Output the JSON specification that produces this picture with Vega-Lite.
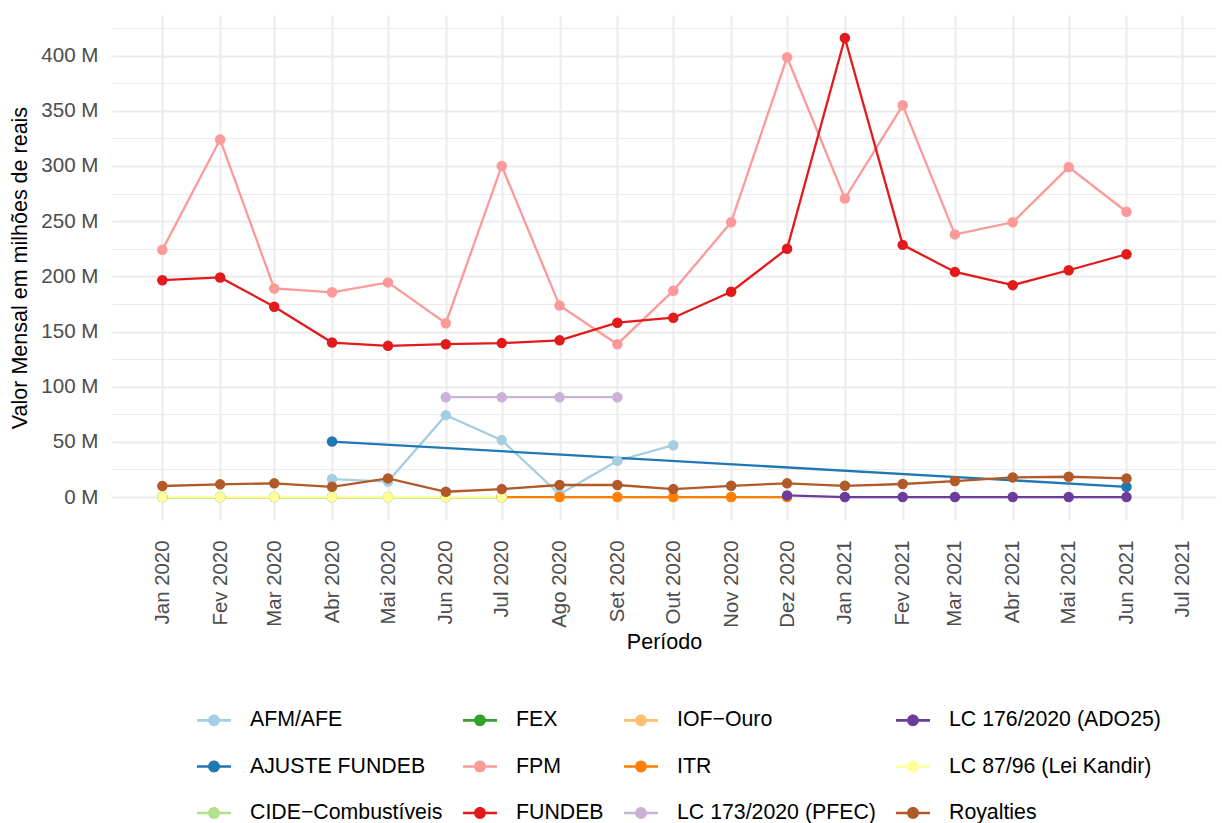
{
  "$schema": "https://vega.github.io/schema/vega-lite/v6.json",
  "autosize": {"type": "none"},
  "padding": {"left": 112, "top": 15, "right": 6, "bottom": 303},
  "width": 1104,
  "height": 505,
  "background": "white",
  "config": {
    "view": {"stroke": null},
    "font": "Liberation Sans",
    "axis": {"domain": false, "ticks": false, "tickSize": 0, "gridColor": "#EBEBEB", "labelColor": "#4D4D4D", "titleColor": "black", "titleFontWeight": "normal", "labelFont": "Liberation Sans", "titleFont": "Liberation Sans"},
    "legend": {"labelFont": "Liberation Sans"}
  },
  "data": {
    "values": [
      {"serie": "AFM/AFE", "data": "2020/04/01", "valor": 16.3},
      {"serie": "AFM/AFE", "data": "2020/05/01", "valor": 14.0},
      {"serie": "AFM/AFE", "data": "2020/06/01", "valor": 74.2},
      {"serie": "AFM/AFE", "data": "2020/07/01", "valor": 51.6},
      {"serie": "AFM/AFE", "data": "2020/08/01", "valor": 2.5},
      {"serie": "AFM/AFE", "data": "2020/09/01", "valor": 32.9},
      {"serie": "AFM/AFE", "data": "2020/10/01", "valor": 47.0},
      {"serie": "AJUSTE FUNDEB", "data": "2020/04/01", "valor": 50.3},
      {"serie": "AJUSTE FUNDEB", "data": "2021/06/01", "valor": 9.3},
      {"serie": "CIDE−Combustíveis", "data": "2020/01/01", "valor": 0},
      {"serie": "CIDE−Combustíveis", "data": "2020/02/01", "valor": 0},
      {"serie": "CIDE−Combustíveis", "data": "2020/03/01", "valor": 0},
      {"serie": "CIDE−Combustíveis", "data": "2020/04/01", "valor": 0},
      {"serie": "CIDE−Combustíveis", "data": "2020/05/01", "valor": 0},
      {"serie": "CIDE−Combustíveis", "data": "2020/06/01", "valor": 0},
      {"serie": "CIDE−Combustíveis", "data": "2020/07/01", "valor": 0},
      {"serie": "FEX", "data": "2020/01/01", "valor": 0},
      {"serie": "FEX", "data": "2020/02/01", "valor": 0},
      {"serie": "FEX", "data": "2020/03/01", "valor": 0},
      {"serie": "FEX", "data": "2020/04/01", "valor": 0},
      {"serie": "FEX", "data": "2020/05/01", "valor": 0},
      {"serie": "FEX", "data": "2020/06/01", "valor": 0},
      {"serie": "FEX", "data": "2020/07/01", "valor": 0},
      {"serie": "FPM", "data": "2020/01/01", "valor": 224.0},
      {"serie": "FPM", "data": "2020/02/01", "valor": 324.0},
      {"serie": "FPM", "data": "2020/03/01", "valor": 189.0},
      {"serie": "FPM", "data": "2020/04/01", "valor": 185.5},
      {"serie": "FPM", "data": "2020/05/01", "valor": 194.5},
      {"serie": "FPM", "data": "2020/06/01", "valor": 157.5},
      {"serie": "FPM", "data": "2020/07/01", "valor": 300.0},
      {"serie": "FPM", "data": "2020/08/01", "valor": 173.5},
      {"serie": "FPM", "data": "2020/09/01", "valor": 138.5},
      {"serie": "FPM", "data": "2020/10/01", "valor": 187.0},
      {"serie": "FPM", "data": "2020/11/01", "valor": 249.0},
      {"serie": "FPM", "data": "2020/12/01", "valor": 398.5},
      {"serie": "FPM", "data": "2021/01/01", "valor": 270.5},
      {"serie": "FPM", "data": "2021/02/01", "valor": 355.0},
      {"serie": "FPM", "data": "2021/03/01", "valor": 238.0},
      {"serie": "FPM", "data": "2021/04/01", "valor": 249.0},
      {"serie": "FPM", "data": "2021/05/01", "valor": 299.0},
      {"serie": "FPM", "data": "2021/06/01", "valor": 258.5},
      {"serie": "FUNDEB", "data": "2020/01/01", "valor": 196.5},
      {"serie": "FUNDEB", "data": "2020/02/01", "valor": 199.0},
      {"serie": "FUNDEB", "data": "2020/03/01", "valor": 172.5},
      {"serie": "FUNDEB", "data": "2020/04/01", "valor": 140.0},
      {"serie": "FUNDEB", "data": "2020/05/01", "valor": 137.0},
      {"serie": "FUNDEB", "data": "2020/06/01", "valor": 138.5},
      {"serie": "FUNDEB", "data": "2020/07/01", "valor": 139.5},
      {"serie": "FUNDEB", "data": "2020/08/01", "valor": 142.0},
      {"serie": "FUNDEB", "data": "2020/09/01", "valor": 158.0},
      {"serie": "FUNDEB", "data": "2020/10/01", "valor": 162.5},
      {"serie": "FUNDEB", "data": "2020/11/01", "valor": 186.0},
      {"serie": "FUNDEB", "data": "2020/12/01", "valor": 225.0},
      {"serie": "FUNDEB", "data": "2021/01/01", "valor": 416.0},
      {"serie": "FUNDEB", "data": "2021/02/01", "valor": 228.5},
      {"serie": "FUNDEB", "data": "2021/03/01", "valor": 204.0},
      {"serie": "FUNDEB", "data": "2021/04/01", "valor": 192.0},
      {"serie": "FUNDEB", "data": "2021/05/01", "valor": 205.5},
      {"serie": "FUNDEB", "data": "2021/06/01", "valor": 220.0},
      {"serie": "IOF−Ouro", "data": "2020/08/01", "valor": 0},
      {"serie": "IOF−Ouro", "data": "2020/09/01", "valor": 0},
      {"serie": "IOF−Ouro", "data": "2020/10/01", "valor": 0},
      {"serie": "IOF−Ouro", "data": "2020/11/01", "valor": 0},
      {"serie": "IOF−Ouro", "data": "2020/12/01", "valor": 0},
      {"serie": "ITR", "data": "2020/07/01", "valor": 0},
      {"serie": "ITR", "data": "2020/08/01", "valor": 0},
      {"serie": "ITR", "data": "2020/09/01", "valor": 0},
      {"serie": "ITR", "data": "2020/10/01", "valor": 0},
      {"serie": "ITR", "data": "2020/11/01", "valor": 0},
      {"serie": "ITR", "data": "2020/12/01", "valor": 0},
      {"serie": "LC 173/2020 (PFEC)", "data": "2020/06/01", "valor": 90.5},
      {"serie": "LC 173/2020 (PFEC)", "data": "2020/07/01", "valor": 90.5},
      {"serie": "LC 173/2020 (PFEC)", "data": "2020/08/01", "valor": 90.5},
      {"serie": "LC 173/2020 (PFEC)", "data": "2020/09/01", "valor": 90.5},
      {"serie": "LC 176/2020 (ADO25)", "data": "2020/12/01", "valor": 1.5},
      {"serie": "LC 176/2020 (ADO25)", "data": "2021/01/01", "valor": 0},
      {"serie": "LC 176/2020 (ADO25)", "data": "2021/02/01", "valor": 0},
      {"serie": "LC 176/2020 (ADO25)", "data": "2021/03/01", "valor": 0},
      {"serie": "LC 176/2020 (ADO25)", "data": "2021/04/01", "valor": 0},
      {"serie": "LC 176/2020 (ADO25)", "data": "2021/05/01", "valor": 0},
      {"serie": "LC 176/2020 (ADO25)", "data": "2021/06/01", "valor": 0},
      {"serie": "LC 87/96 (Lei Kandir)", "data": "2020/01/01", "valor": 0},
      {"serie": "LC 87/96 (Lei Kandir)", "data": "2020/02/01", "valor": 0},
      {"serie": "LC 87/96 (Lei Kandir)", "data": "2020/03/01", "valor": 0},
      {"serie": "LC 87/96 (Lei Kandir)", "data": "2020/04/01", "valor": 0},
      {"serie": "LC 87/96 (Lei Kandir)", "data": "2020/05/01", "valor": 0},
      {"serie": "LC 87/96 (Lei Kandir)", "data": "2020/06/01", "valor": 0},
      {"serie": "LC 87/96 (Lei Kandir)", "data": "2020/07/01", "valor": 0},
      {"serie": "Royalties", "data": "2020/01/01", "valor": 10.0},
      {"serie": "Royalties", "data": "2020/02/01", "valor": 11.5},
      {"serie": "Royalties", "data": "2020/03/01", "valor": 12.4},
      {"serie": "Royalties", "data": "2020/04/01", "valor": 9.3},
      {"serie": "Royalties", "data": "2020/05/01", "valor": 16.9},
      {"serie": "Royalties", "data": "2020/06/01", "valor": 4.8},
      {"serie": "Royalties", "data": "2020/07/01", "valor": 7.2},
      {"serie": "Royalties", "data": "2020/08/01", "valor": 10.9},
      {"serie": "Royalties", "data": "2020/09/01", "valor": 10.9},
      {"serie": "Royalties", "data": "2020/10/01", "valor": 7.2},
      {"serie": "Royalties", "data": "2020/11/01", "valor": 10.2},
      {"serie": "Royalties", "data": "2020/12/01", "valor": 12.4},
      {"serie": "Royalties", "data": "2021/01/01", "valor": 10.2},
      {"serie": "Royalties", "data": "2021/02/01", "valor": 11.8},
      {"serie": "Royalties", "data": "2021/03/01", "valor": 14.5},
      {"serie": "Royalties", "data": "2021/04/01", "valor": 17.8},
      {"serie": "Royalties", "data": "2021/05/01", "valor": 18.4},
      {"serie": "Royalties", "data": "2021/06/01", "valor": 16.9}
    ]
  },
  "encoding": {
    "x": {
      "field": "data", "type": "temporal", "title": "Período",
      "scale": {"domain": [{"year": 2019, "month": 12, "date": 5}, {"year": 2021, "month": 7, "date": 19}]},
      "axis": {
        "values": [
          {"year": 2020, "month": 1, "date": 1}, {"year": 2020, "month": 2, "date": 1}, {"year": 2020, "month": 3, "date": 1},
          {"year": 2020, "month": 4, "date": 1}, {"year": 2020, "month": 5, "date": 1}, {"year": 2020, "month": 6, "date": 1},
          {"year": 2020, "month": 7, "date": 1}, {"year": 2020, "month": 8, "date": 1}, {"year": 2020, "month": 9, "date": 1},
          {"year": 2020, "month": 10, "date": 1}, {"year": 2020, "month": 11, "date": 1}, {"year": 2020, "month": 12, "date": 1},
          {"year": 2021, "month": 1, "date": 1}, {"year": 2021, "month": 2, "date": 1}, {"year": 2021, "month": 3, "date": 1},
          {"year": 2021, "month": 4, "date": 1}, {"year": 2021, "month": 5, "date": 1}, {"year": 2021, "month": 6, "date": 1},
          {"year": 2021, "month": 7, "date": 1}
        ],
        "labelExpr": "['Jan','Fev','Mar','Abr','Mai','Jun','Jul','Ago','Set','Out','Nov','Dez'][month(datum.value)] + ' ' + year(datum.value)",
        "labelAngle": -90, "labelAlign": "right", "labelBaseline": "middle",
        "labelFontSize": 20.4, "labelPadding": 20, "titleFontSize": 21.5, "titlePadding": 4,
        "gridWidth": 2, "labelOverlap": false, "labelFlush": false
      }
    },
    "y": {
      "field": "valor", "type": "quantitative", "title": "Valor Mensal em milhões de reais",
      "scale": {"domain": [-20.8, 436.8], "nice": false, "zero": false},
      "axis": {
        "values": [0, 25, 50, 75, 100, 125, 150, 175, 200, 225, 250, 275, 300, 325, 350, 375, 400, 425],
        "labelExpr": "datum.value % 50 == 0 ? datum.value + ' M' : ''",
        "labelFontSize": 20.6, "labelPadding": 14, "titleFontSize": 21.5, "titlePadding": 9,
        "gridWidth": {"condition": {"test": "datum.value % 50 == 0", "value": 2}, "value": 1.2},
        "labelOverlap": false
      }
    },
    "color": {
      "field": "serie", "type": "nominal",
      "scale": {
        "domain": ["AFM/AFE", "FEX", "IOF−Ouro", "LC 176/2020 (ADO25)", "AJUSTE FUNDEB", "FPM", "ITR", "LC 87/96 (Lei Kandir)", "CIDE−Combustíveis", "FUNDEB", "LC 173/2020 (PFEC)", "Royalties"],
        "range": ["#A6CEE3", "#33A02C", "#FDBF6F", "#6A3D9A", "#1F78B4", "#FB9A99", "#FF7F00", "#FFFF99", "#B2DF8A", "#E31A1C", "#CAB2D6", "#B15928"]
      },
      "legend": {
        "orient": "none", "legendX": 85, "legendY": 688, "columns": 4, "direction": "horizontal", "title": null,
        "symbolType": "M-1,-0.08H1V0.08H-1Z M0.35,0A0.35,0.35 0 1,1 -0.35,0A0.35,0.35 0 1,1 0.35,0Z",
        "symbolSize": 1156, "symbolStrokeWidth": 0, "symbolOpacity": 1,
        "labelFontSize": 21.3, "labelColor": "black", "labelLimit": 400, "labelOffset": 19,
        "rowPadding": 18.5, "columnPadding": 20
      }
    }
  },
  "layer": [
    {"mark": {"type": "line", "strokeWidth": 2.3}},
    {"mark": {"type": "point", "filled": true, "opacity": 1, "size": 110}}
  ]
}
